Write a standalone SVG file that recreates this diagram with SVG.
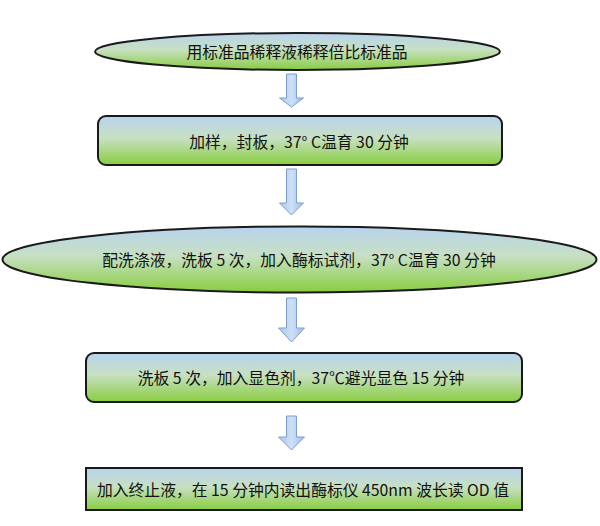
<svg xmlns="http://www.w3.org/2000/svg" width="600" height="526" viewBox="0 0 600 526">
<defs>
<linearGradient id="g" x1="0" y1="0" x2="0" y2="1">
<stop offset="0" stop-color="#b8d3ef"/>
<stop offset="0.45" stop-color="#c7e0c2"/>
<stop offset="1" stop-color="#88cd3f"/>
</linearGradient>
<linearGradient id="ga" x1="0" y1="0" x2="1" y2="0">
<stop offset="0" stop-color="#a9c6ea"/>
<stop offset="0.5" stop-color="#cfe0f5"/>
<stop offset="1" stop-color="#9dbde6"/>
</linearGradient>
<style>
.n{fill:url(#g);stroke:#1a1a1a;stroke-width:2}
.t{font-family:"Noto Sans CJK SC","Liberation Sans",sans-serif;font-size:15.8px;fill:#111;text-anchor:middle;dominant-baseline:central}
.a{fill:url(#ga);stroke:#7a9fcf;stroke-width:1}
</style>
</defs>
<rect width="600" height="526" fill="#fff"/>
<g id="connectors">
<path class="a" d="M286.5 74 H296.5 V98 H303.5 L291.5 107 L279.5 98 H286.5 Z"/>
<path class="a" d="M286.5 169 H296.5 V203 H303.5 L291.5 215 L279.5 203 H286.5 Z"/>
<path class="a" d="M286.5 298 H296.5 V328 H304.5 L291.5 342 L278.5 328 H286.5 Z"/>
<path class="a" d="M286.5 416 H296.5 V437 H304.5 L291.5 450 L278.5 437 H286.5 Z"/>
</g>
<g id="n1">
<ellipse class="n" cx="297.5" cy="51.5" rx="202.5" ry="18.5"/>
<text class="t" x="297" y="51">用标准品稀释液稀释倍比标准品</text>
</g>
<g id="n2">
<rect class="n" x="98" y="116" width="404" height="49" rx="8"/>
<text class="t" x="299" y="141">加样，封板，37° C温育 30 分钟</text>
</g>
<g id="n3">
<ellipse class="n" cx="299.5" cy="259.5" rx="297" ry="33"/>
<text class="t" x="299" y="259">配洗涤液，洗板 5 次，加入酶标试剂，37° C温育 30 分钟</text>
</g>
<g id="n4">
<rect class="n" x="86" y="353" width="436" height="49" rx="8"/>
<text class="t" x="301" y="377">洗板 5 次，加入显色剂，37℃避光显色 15 分钟</text>
</g>
<g id="n5">
<rect class="n" x="86" y="468" width="436" height="42" stroke-width="2.5"/>
<text class="t" x="303" y="489">加入终止液，在 15 分钟内读出酶标仪 450nm 波长读 OD 值</text>
</g>
</svg>
